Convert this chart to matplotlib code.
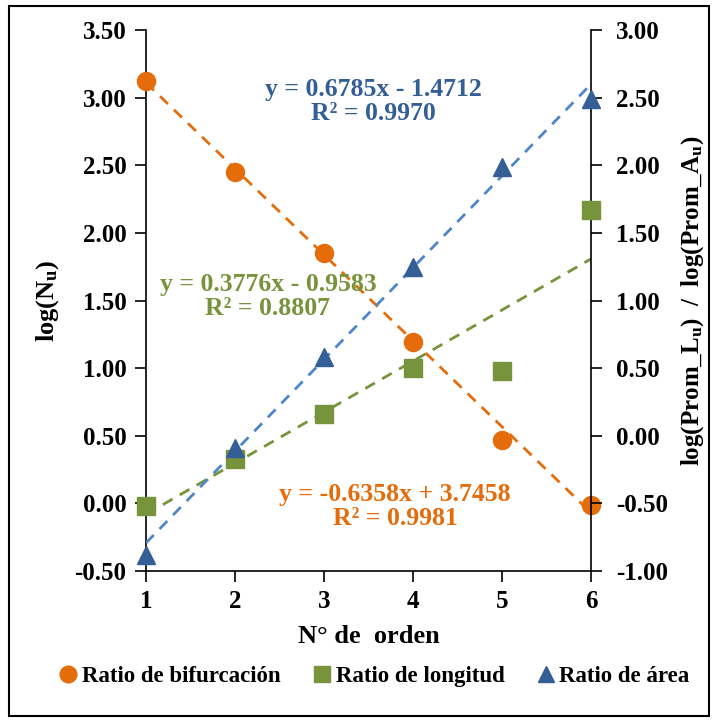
import numpy as np
import matplotlib
matplotlib.use("Agg")
import matplotlib.pyplot as plt
from matplotlib.patches import Rectangle
from matplotlib.lines import Line2D

plt.rcParams['font.family'] = ['Liberation Serif', 'DejaVu Serif']
plt.rcParams['font.weight'] = 'bold'
plt.rcParams['mathtext.fontset'] = 'custom'
plt.rcParams['mathtext.rm'] = 'Liberation Serif:bold'
plt.rcParams['mathtext.it'] = 'Liberation Serif:bold'
plt.rcParams['mathtext.bf'] = 'Liberation Serif:bold'

# data
orden = [1, 2, 3, 4, 5, 6]
bifurcacion = [3.12, 2.45, 1.85, 1.19, 0.47, -0.01]     # left axis
longitud = [-0.52, -0.17, 0.16, 0.50, 0.48, 1.67]       # right axis
area = [-0.88, -0.09, 0.58, 1.25, 1.99, 2.49]           # right axis

# trend lines (slope, intercept) as printed on the chart
fit_bif = [-0.6358, 3.7458]
fit_lon = [0.3776, -0.9583]
fit_are = [0.6785, -1.4712]
eq_bif = "y = -0.6358x + 3.7458\nR² = 0.9981"
eq_lon = "y = 0.3776x - 0.9583\nR² = 0.8807"
eq_are = "y = 0.6785x - 1.4712\nR² = 0.9970"

c_orange = '#E46C0A'
c_green = '#77933C'
c_blue = '#335F96'
c_blue_line = '#4F86C6'

fig = plt.figure(figsize=(7.16, 7.22), dpi=100)
fig.patches.append(Rectangle((9/716, 1-716/722), 700/716, 710/722, transform=fig.transFigure,
                             fill=False, edgecolor='black', linewidth=1.5))

ax = fig.add_axes([146/716, 1-571/722, 445/716, 541/722])
ax2 = ax.twinx()

xx = np.array([1, 6])
dash = (0, (4, 3))
ax.plot(xx, fit_bif[0]*xx + fit_bif[1], color=c_orange, lw=2, linestyle=dash, zorder=2)
ax2.plot(xx, fit_lon[0]*xx + fit_lon[1], color=c_green, lw=2, linestyle=dash, zorder=2)
ax2.plot(xx, fit_are[0]*xx + fit_are[1], color=c_blue_line, lw=2, linestyle=dash, zorder=2)

ax.plot(orden, bifurcacion, 'o', color=c_orange, markersize=13, zorder=3, clip_on=False)
ax2.plot(orden, longitud, 's', color=c_green, markersize=13, zorder=3, clip_on=False)
ax2.plot(orden, area, '^', color=c_blue, markersize=13, zorder=3, clip_on=False)

ax.set_xlim(1, 6)
ax.set_ylim(-0.5, 3.5)
ax2.set_ylim(-1.0, 3.0)
ax.set_xticks(orden)
ax.set_yticks(np.arange(-0.5, 3.51, 0.5))
ax2.set_yticks(np.arange(-1.0, 3.01, 0.5))
ax.yaxis.set_major_formatter(matplotlib.ticker.FormatStrFormatter('%.2f'))
ax2.yaxis.set_major_formatter(matplotlib.ticker.FormatStrFormatter('%.2f'))

for a in (ax, ax2):
    a.spines['top'].set_visible(False)
    for s in a.spines.values():
        s.set_linewidth(1.2)
    a.tick_params(direction='out', length=8, width=1.2, labelsize=18, pad=6)
ax2.spines['left'].set_visible(False)
ax2.spines['bottom'].set_visible(False)
ax.spines['right'].set_visible(False)
ax2.tick_params(axis='y', pad=10)

ax.set_xlabel('N° de  orden', fontsize=19, fontweight='bold', labelpad=8)
ax.set_ylabel(r'log(N$_{\mathrm{u}}$)', fontsize=19, fontweight='bold', labelpad=10)
ax2.set_ylabel(r'log(Prom_L$_{\mathrm{u}}$)  /  log(Prom_A$_{\mathrm{u}}$)', fontsize=18,
               fontweight='bold', labelpad=8)

ax.text(3.55, 2.97, eq_are, color=c_blue, fontsize=18.5, fontweight='bold',
        ha='center', va='center', linespacing=1.05, zorder=5)
ax.text(2.37, 1.53, eq_lon, color=c_green, fontsize=18.5, fontweight='bold',
        ha='center', va='center', linespacing=1.05, zorder=5)
ax.text(3.80, -0.02, eq_bif, color=c_orange, fontsize=18.5, fontweight='bold',
        ha='center', va='center', linespacing=1.05, zorder=5)

handles = [Line2D([], [], marker='o', color=c_orange, linestyle='none', markersize=12),
           Line2D([], [], marker='s', color=c_green, linestyle='none', markersize=12),
           Line2D([], [], marker='^', color=c_blue, linestyle='none', markersize=12)]
fig.legend(handles, ['Ratio de bifurcación', 'Ratio de longitud', 'Ratio de área'],
           loc='center', bbox_to_anchor=(372/716, 1-676/722), ncol=3, frameon=False,
           handletextpad=0.0, columnspacing=1.2, handlelength=1.2,
           prop={'size': 16.5, 'weight': 'bold'})

fig.savefig('out.png', dpi=100)
